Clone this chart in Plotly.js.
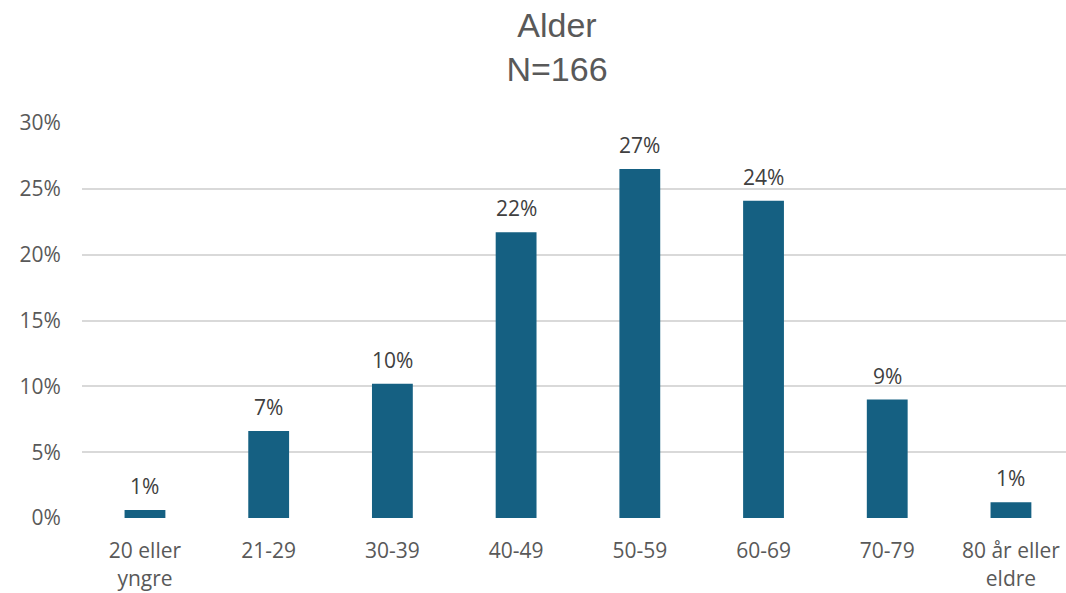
<!DOCTYPE html>
<html>
<head>
<meta charset="utf-8">
<script src="https://cdn.plot.ly/plotly-3.0.1.min.js"></script>
<style>html,body{margin:0;padding:0;background:#fff;}#chart{width:1066px;height:593px;}</style>
</head>
<body>
<div id="chart"></div>
<script>
const categories = ["20 eller<br>yngre", "21-29", "30-39", "40-49", "50-59", "60-69", "70-79", "80 år eller<br>eldre"];
const shares = [0.006, 0.066, 0.102, 0.217, 0.265, 0.241, 0.090, 0.012];
const labels = ["1%", "7%", "10%", "22%", "27%", "24%", "9%", "1%"];
const yTickVals = [0, 0.05, 0.10, 0.15, 0.20, 0.25, 0.30];
const yTickText = ["0%", "5%", "10%", "15%", "20%", "25%", "30%"];
const chartTitle = "Alder<br>N=166";

const FONT = "Open Sans, Liberation Sans, Arial, sans-serif";
const xIdx = categories.map((c, i) => i);

const trace = {
  type: "bar",
  x: xIdx,
  y: shares,
  width: 0.33,
  marker: {color: "#156082"},
  hoverinfo: "skip"
};

const annotations = shares.map((v, i) => ({
  x: i, y: v, xref: "x", yref: "y",
  text: labels[i], showarrow: false,
  yanchor: "bottom", yshift: 8,
  font: {family: FONT, size: 21, color: "#404040"}
}));

const layout = {
  width: 1066, height: 593,
  paper_bgcolor: "#ffffff", plot_bgcolor: "#ffffff",
  margin: {l: 82, r: 0, t: 123, b: 75},
  showlegend: false,
  title: {
    text: chartTitle,
    font: {family: "Liberation Sans Narrow, Arial Narrow, Liberation Sans, sans-serif", size: 34, color: "#595959"},
    x: 0.5225, xref: "container", xanchor: "center",
    y: 0.938, yref: "container", yanchor: "top"
  },
  xaxis: {
    range: [-0.509, 7.445],
    tickvals: xIdx, ticktext: categories,
    showgrid: false, zeroline: false, showline: false,
    ticks: "outside", ticklen: 14, tickcolor: "rgba(0,0,0,0)",
    tickfont: {family: FONT, size: 21, color: "#595959"},
    fixedrange: true
  },
  yaxis: {
    range: [0, 0.3],
    tickvals: yTickVals, ticktext: yTickText,
    showgrid: true, gridcolor: "#d9d9d9", gridwidth: 2,
    zeroline: false, showline: false,
    ticks: "outside", ticklen: 16, tickcolor: "rgba(0,0,0,0)",
    tickfont: {family: FONT, size: 21, color: "#595959"},
    fixedrange: true
  },
  annotations: annotations
};

Plotly.newPlot("chart", [trace], layout, {displayModeBar: false, staticPlot: true});
</script>
</body>
</html>
